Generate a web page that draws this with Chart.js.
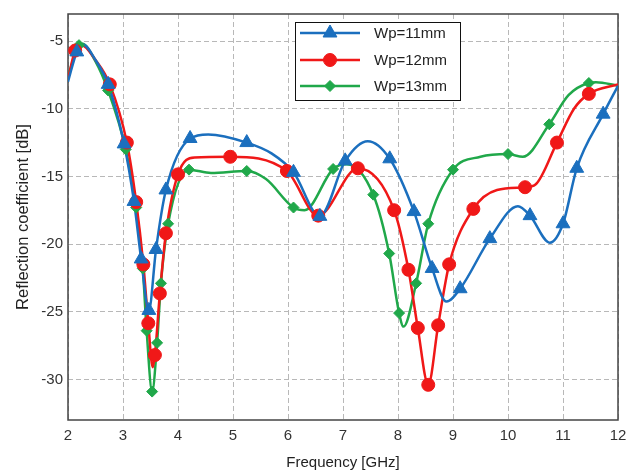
<!DOCTYPE html>
<html>
<head>
<meta charset="utf-8">
<script src="https://cdn.jsdelivr.net/npm/chart.js@4/dist/chart.umd.min.js"></script>
<style>
  html, body { margin: 0; padding: 0; background: #fff; }
</style>
</head>
<body>
<canvas id="reflChart" width="642" height="476"></canvas>
<script>
const seriesNames = ['Wp=11mm', 'Wp=12mm', 'Wp=13mm'];
const xTicks = [2, 3, 4, 5, 6, 7, 8, 9, 10, 11, 12];
const yTicks = [-30, -25, -20, -15, -10, -5];

// curves (GHz, dB)
const wp11CurveX = [2.0, 2.16, 2.27, 2.5, 2.73, 3.02, 3.2, 3.33, 3.47, 3.6, 3.78, 4.22, 4.55, 5.25, 5.7, 6.1, 6.58, 7.04, 7.45, 7.85, 8.29, 8.62, 8.88, 9.13, 9.67, 10.18, 10.4, 10.76, 11.0, 11.25, 11.73, 12.0];
const wp11CurveY = [-8.0, -5.8, -5.25, -6.4, -8.2, -12.6, -16.85, -21.1, -24.9, -20.4, -16.0, -12.2, -11.9, -12.5, -13.3, -14.7, -17.95, -13.85, -12.4, -13.7, -17.6, -21.8, -24.25, -23.3, -19.6, -17.2, -17.9, -19.9, -18.5, -14.4, -10.4, -8.3];
const wp12CurveX = [2.0, 2.13, 2.25, 2.5, 2.76, 3.07, 3.24, 3.37, 3.46, 3.54, 3.58, 3.67, 3.78, 4.0, 4.3, 4.95, 5.98, 6.55, 7.27, 7.93, 8.19, 8.36, 8.55, 8.73, 8.93, 9.37, 9.8, 10.31, 10.5, 10.89, 11.2, 11.47, 12.0];
const wp12CurveY = [-7.8, -5.7, -5.3, -6.4, -8.2, -12.5, -16.9, -21.5, -25.85, -29.1, -28.2, -23.65, -19.2, -14.85, -13.6, -13.55, -14.6, -17.9, -14.4, -17.5, -21.9, -26.2, -30.4, -26.0, -21.5, -17.4, -16.0, -15.8, -15.6, -12.5, -10.0, -8.9, -8.2];
const wp13CurveX = [2.0, 2.2, 2.26, 2.5, 2.73, 3.05, 3.24, 3.36, 3.43, 3.53, 3.62, 3.69, 3.82, 4.2, 4.6, 5.25, 5.6, 6.1, 6.3, 6.82, 7.07, 7.55, 7.84, 8.02, 8.1, 8.33, 8.55, 9.0, 9.5, 10.0, 10.27, 10.75, 11.1, 11.47, 11.6, 12.0];
const wp13CurveY = [-7.6, -5.3, -5.2, -6.5, -8.65, -13.0, -17.3, -21.8, -26.4, -30.9, -27.3, -22.9, -18.5, -14.5, -14.75, -14.6, -15.2, -17.3, -17.5, -14.45, -14.1, -16.35, -20.7, -25.1, -26.1, -22.9, -18.5, -14.5, -13.55, -13.35, -13.55, -11.15, -9.0, -8.1, -8.05, -8.3];

// marker positions
const wp11MarkX = [2.16, 2.73, 3.02, 3.2, 3.33, 3.47, 3.6, 3.78, 4.22, 5.25, 6.1, 6.58, 7.04, 7.85, 8.29, 8.62, 9.13, 9.67, 10.4, 11.0, 11.25, 11.73];
const wp11MarkY = [-5.8, -8.2, -12.6, -16.85, -21.1, -24.9, -20.4, -16.0, -12.2, -12.5, -14.7, -17.95, -13.85, -13.7, -17.6, -21.8, -23.3, -19.6, -17.9, -18.5, -14.4, -10.4];
const wp12MarkX = [2.13, 2.76, 3.07, 3.24, 3.37, 3.46, 3.58, 3.67, 3.78, 4.0, 4.95, 5.98, 6.55, 7.27, 7.93, 8.19, 8.36, 8.55, 8.73, 8.93, 9.37, 10.31, 10.89, 11.47];
const wp12MarkY = [-5.7, -8.2, -12.5, -16.9, -21.5, -25.85, -28.2, -23.65, -19.2, -14.85, -13.55, -14.6, -17.9, -14.4, -17.5, -21.9, -26.2, -30.4, -26.0, -21.5, -17.4, -15.8, -12.5, -8.9];
const wp13MarkX = [2.2, 2.73, 3.05, 3.24, 3.36, 3.43, 3.53, 3.62, 3.69, 3.82, 4.2, 5.25, 6.1, 6.82, 7.55, 7.84, 8.02, 8.33, 8.55, 9.0, 10.0, 10.75, 11.47];
const wp13MarkY = [-5.3, -8.65, -13.0, -17.3, -21.8, -26.4, -30.9, -27.3, -22.9, -18.5, -14.5, -14.6, -17.3, -14.45, -16.35, -20.7, -25.1, -22.9, -18.5, -14.5, -13.35, -11.15, -8.1];

const colors = ['#1b6fbe', '#f01818', '#20a84a'];
const markStyles = ['triangle', 'circle', 'rectRot'];
const markSizes = [8, 6.5, 5.5];

function pts(xs, ys) {
  return xs.map((x, i) => ({ x: x, y: ys[i] }));
}

const curves = [pts(wp11CurveX, wp11CurveY), pts(wp12CurveX, wp12CurveY), pts(wp13CurveX, wp13CurveY)];
const marks = [pts(wp11MarkX, wp11MarkY), pts(wp12MarkX, wp12MarkY), pts(wp13MarkX, wp13MarkY)];

const datasets = [];
// markers first so they sit on top
marks.forEach((m, i) => {
  datasets.push({
    label: seriesNames[i] + ' markers',
    data: m,
    showLine: false,
    pointStyle: markStyles[i],
    pointRadius: markSizes[i],
    pointBackgroundColor: colors[i],
    pointBorderColor: colors[i],
    pointBorderWidth: 1
  });
});
curves.forEach((c, i) => {
  datasets.push({
    label: seriesNames[i],
    data: c,
    borderColor: colors[i],
    borderWidth: 2.5,
    pointRadius: 0,
    cubicInterpolationMode: 'monotone',
    fill: false
  });
});

const fontFam = '"Liberation Sans", Arial, sans-serif';

const framePlugin = {
  id: 'frame',
  beforeDatasetsDraw(chart) {
    const { ctx, chartArea: a } = chart;
    ctx.save();
    ctx.strokeStyle = '#444';
    ctx.lineWidth = 1.5;
    ctx.strokeRect(a.left, a.top, a.right - a.left, a.bottom - a.top);
    ctx.restore();
  }
};

const legendPlugin = {
  id: 'boxLegend',
  afterDraw(chart) {
    const { ctx } = chart;
    const bx = 295, by = 22, bw = 165, bh = 78;
    const rowY = [33, 60, 86];
    ctx.save();
    ctx.fillStyle = '#fff';
    ctx.fillRect(bx, by, bw, bh);
    ctx.strokeStyle = '#111';
    ctx.lineWidth = 1;
    ctx.strokeRect(bx + 0.5, by + 0.5, bw, bh);
    seriesNames.forEach((name, i) => {
      const y = rowY[i];
      ctx.strokeStyle = colors[i];
      ctx.lineWidth = 2.5;
      ctx.beginPath();
      ctx.moveTo(300, y);
      ctx.lineTo(360, y);
      ctx.stroke();
      ctx.fillStyle = colors[i];
      ctx.lineWidth = 1;
      Chart.helpers.drawPoint(ctx, {
        pointStyle: markStyles[i], radius: markSizes[i], rotation: 0, borderWidth: 1
      }, 330, y);
      ctx.fillStyle = '#222';
      ctx.font = '15px ' + fontFam;
      ctx.textAlign = 'left';
      ctx.textBaseline = 'middle';
      ctx.fillText(name, 374, y + 1);
    });
    ctx.restore();
  }
};

new Chart(document.getElementById('reflChart').getContext('2d'), {
  type: 'line',
  data: { datasets: datasets },
  options: {
    responsive: false,
    animation: false,
    layout: { padding: { left: 0, right: 24, top: 11, bottom: 0 } },
    plugins: {
      legend: { display: false },
      tooltip: { enabled: false }
    },
    scales: {
      x: {
        type: 'linear',
        min: 2,
        max: 12,
        afterBuildTicks(scale) { scale.ticks = xTicks.map(v => ({ value: v })); },
        afterFit(scale) { scale.height = 56; },
        grid: { color: '#b8b8b8', lineWidth: 1, drawTicks: false },
        border: { display: false, dash: [5, 3] },
        ticks: {
          padding: 7,
          color: '#333',
          font: { family: fontFam, size: 15 }
        },
        title: {
          display: true,
          text: 'Frequency [GHz]',
          color: '#222',
          font: { family: fontFam, size: 15 },
          padding: { top: 0, bottom: 4 }
        }
      },
      y: {
        type: 'linear',
        min: -33,
        max: -3,
        afterBuildTicks(scale) { scale.ticks = yTicks.map(v => ({ value: v })); },
        afterFit(scale) { scale.width = 68; },
        grid: { color: '#b8b8b8', lineWidth: 1, drawTicks: false },
        border: { display: false, dash: [5, 3] },
        ticks: {
          padding: 5,
          color: '#333',
          font: { family: fontFam, size: 15 }
        },
        title: {
          display: true,
          text: 'Reflection coefficient [dB]',
          color: '#222',
          font: { family: fontFam, size: 16.5 },
          padding: { top: 14, bottom: 0 }
        }
      }
    }
  },
  plugins: [framePlugin, legendPlugin]
});
</script>
</body>
</html>
